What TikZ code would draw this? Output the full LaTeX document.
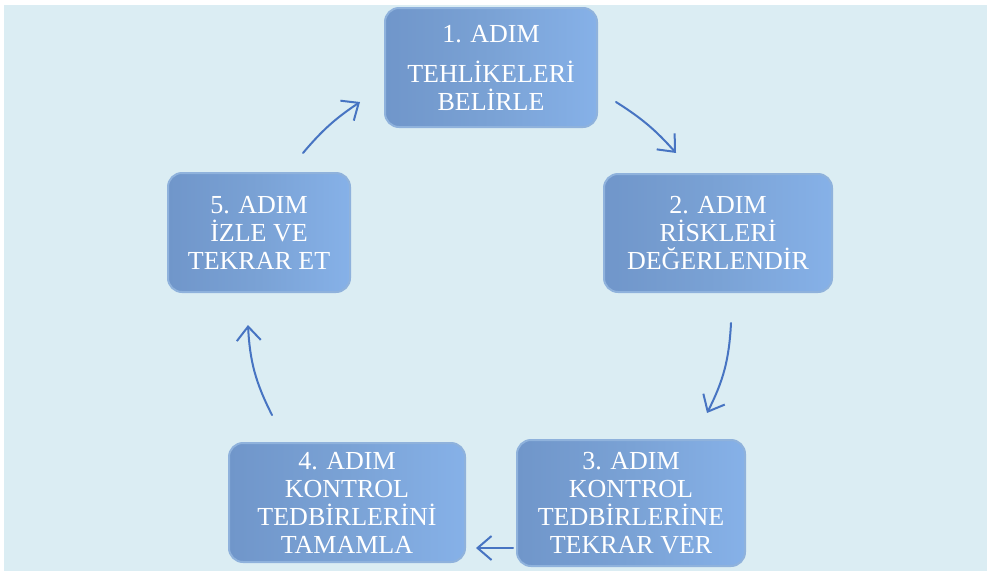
\documentclass[tikz,border=0pt]{standalone}
\usepackage{fontspec}
\setmainfont{Liberation Serif}
\usetikzlibrary{arrows.meta}
\definecolor{bgblue}{HTML}{DBEDF3}
\definecolor{boxmid}{HTML}{7AA2D5}
\definecolor{boxleft}{HTML}{7096CA}
\definecolor{boxright}{HTML}{86B1E8}
\definecolor{boxedge}{HTML}{8FB2DC}
\definecolor{arrowblue}{HTML}{4774C2}
\tikzset{
  stepbox/.style={rounded corners=14pt, left color=boxleft, right color=boxright, middle color=boxmid,
    draw=boxedge, line width=2pt, text=white, align=center,
    font=\fontsize{26}{28}\selectfont, inner sep=0pt},
  arr/.style={draw=arrowblue, line width=2pt, line cap=round,
    -{Straight Barb[length=14pt,width=24pt,line width=2pt]}},
  curv/.style={bend left=12}
}
\begin{document}
\begin{tikzpicture}[x=1pt,y=-1pt]
\useasboundingbox (0,0) rectangle (987,571);
\fill[bgblue] (4,5) rectangle (987,571);

\node[stepbox, minimum width=212pt, minimum height=119pt] (s1) at (491,67.5)
  {1. ADIM\\[12pt]TEHLİKELERİ\\BELİRLE};
\node[stepbox, minimum width=228pt, minimum height=118pt] (s2) at (718,233)
  {2. ADIM\\RİSKLERİ\\DEĞERLENDİR};
\node[stepbox, minimum width=228pt, minimum height=126pt] (s3) at (631,503)
  {3. ADIM\\KONTROL\\TEDBİRLERİNE\\TEKRAR VER};
\node[stepbox, minimum width=236pt, minimum height=119pt] (s4) at (347,502.5)
  {4. ADIM\\KONTROL\\TEDBİRLERİNİ\\TAMAMLA};
\node[stepbox, minimum width=182pt, minimum height=119pt] (s5) at (259,232.5)
  {5. ADIM\\İZLE VE\\TEKRAR ET};

\coordinate (a1s) at (616,102);
\coordinate (a1e) at (676,153);
\coordinate (a2s) at (731,323);
\coordinate (a2e) at (707,413);
\coordinate (a3s) at (513,548);
\coordinate (a3e) at (476,548);
\coordinate (a4s) at (272,415);
\coordinate (a4e) at (248,325);
\coordinate (a5s) at (303,153);
\coordinate (a5e) at (360,102);

\draw[arr] (a1s) to[bend left=8] (a1e);
\draw[arr] (a2s) to[curv] (a2e);
\draw[arr] (a3s) -- (a3e);
\draw[arr] (a4s) to[curv] (a4e);
\draw[arr] (a5s) to[bend left=8] (a5e);
\end{tikzpicture}
\end{document}
